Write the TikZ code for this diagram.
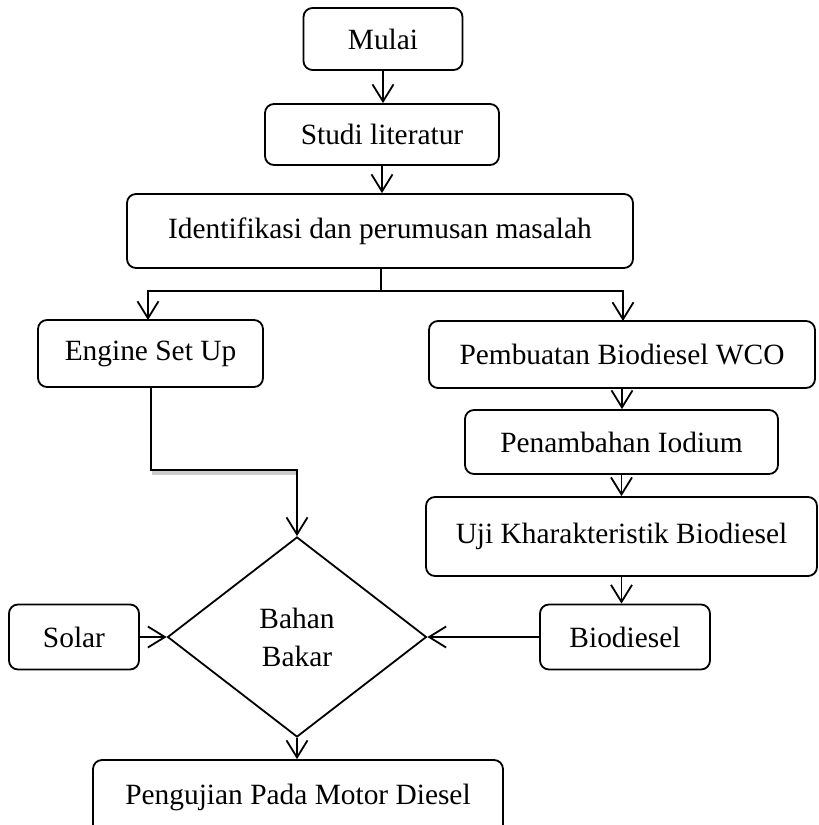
\documentclass[tikz,border=0pt]{standalone}
\usepackage{fontspec}
\setmainfont{Liberation Serif}
\usetikzlibrary{arrows.meta,shapes.geometric}
\begin{document}
\begin{tikzpicture}[x=0.5pt,y=-0.5pt,
  every node/.style={font=\fontsize{14.7}{19}\selectfont},
  box/.style={draw,line width=0.9pt,rounded corners=4.5pt,inner sep=0pt,align=center},
  dec/.style={draw,line width=0.9pt,diamond,inner sep=0pt,align=center,
    minimum width=129.5pt,minimum height=100pt},
  arr/.style={line width=0.9pt,-{Straight Barb[length=8.5pt,width=10.5pt,line width=0.9pt]}},
  ln/.style={line width=0.9pt}]
\useasboundingbox (0,0) rectangle (819,825);
\clip (0,0) rectangle (819,825);
\node[box,minimum width=79.5pt,minimum height=31pt] (mulai) at (383,39) {Mulai};
\node[box,minimum width=117pt,minimum height=30.5pt] (studi) at (382,134.5) {Studi literatur};
\node[box,minimum width=253pt,minimum height=37pt] (ident) at (380,231) {\raisebox{1.5pt}{Identifikasi dan perumusan masalah}};
\node[box,minimum width=112.5pt,minimum height=33.5pt] (engine) at (150.5,353.5) {Engine Set Up};
\node[box,minimum width=193pt,minimum height=33.5pt] (pemb) at (622,354.5) {Pembuatan Biodiesel WCO};
\node[box,minimum width=156.5pt,minimum height=32pt] (penam) at (621.5,442) {Penambahan Iodium};
\node[box,minimum width=195.5pt,minimum height=39.5pt] (uji) at (621.5,536.5) {\raisebox{3pt}{Uji Kharakteristik Biodiesel}};
\node[box,minimum width=85pt,minimum height=32.5pt] (bio) at (625,637) {Biodiesel};
\node[box,minimum width=65pt,minimum height=32.5pt] (solar) at (74,637) {Solar};
\node[dec] (dia) at (297,637) {Bahan\\Bakar};
\node[box,minimum width=205pt,minimum height=37pt] (peng) at (298,797) {\raisebox{2pt}{Pengujian Pada Motor Diesel}};
\coordinate (split) at (381,291);
\coordinate (bend) at (151,470);
% connectors
\draw[arr] (mulai.south) -- (mulai.south |- studi.north);
\draw[arr] (studi.south) -- (studi.south |- ident.north);
\draw[ln] (ident.south -| split) -- (split);
\draw[arr] (split) -| (148,320);
\draw[arr] (split) -| (623,321);
\draw[arr] (pemb.south) -- (pemb.south |- penam.north);
\draw[arr] (penam.south) -- (penam.south |- uji.north);
\draw[arr] (uji.south) -- (uji.south |- bio.north);
\draw[gray!40,line width=2pt] (152,473) -- (296,473);
\draw[arr] (engine.south -| bend) -- (bend) -| (dia.north);
\draw[arr] (solar.east) -- (dia.west);
\draw[arr] (bio.west) -- (dia.east);
\draw[arr] (dia.south) -- (dia.south |- peng.north);
\end{tikzpicture}
\end{document}
